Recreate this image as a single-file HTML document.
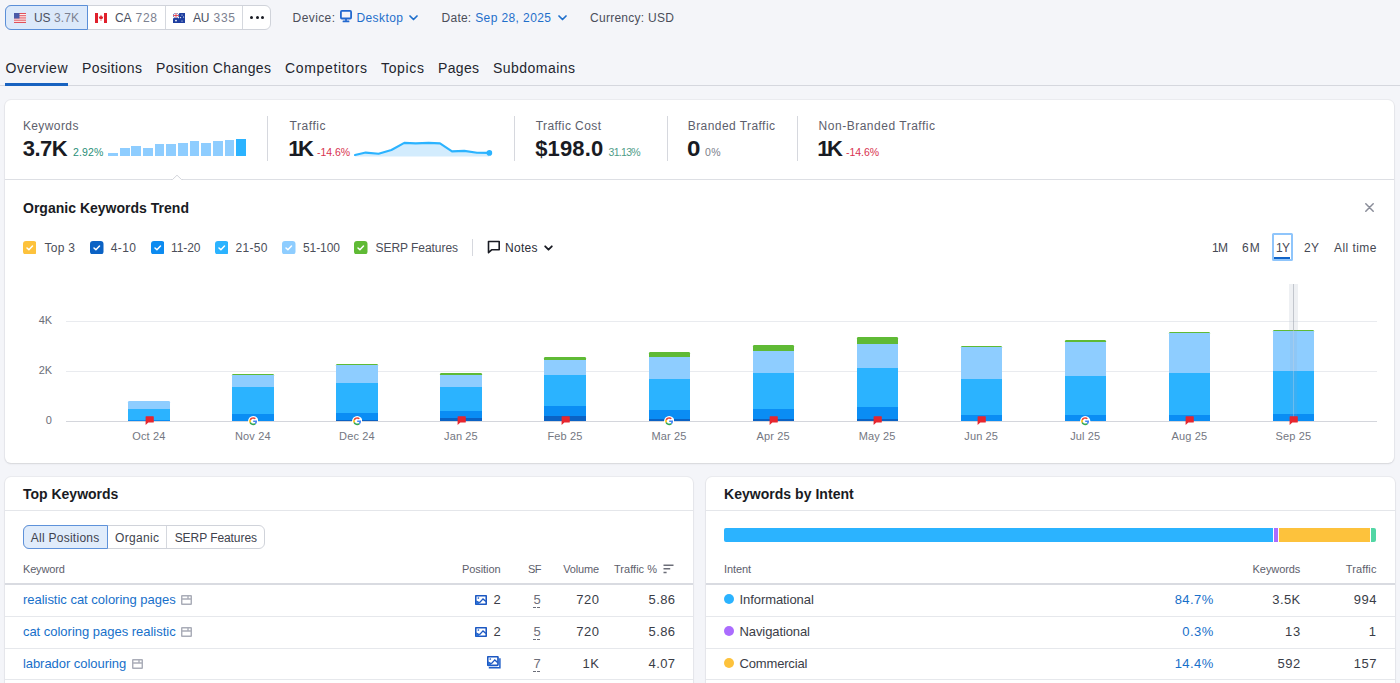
<!DOCTYPE html>
<html><head><meta charset="utf-8"><title>Organic Research</title>
<style>
html,body{margin:0;padding:0;}
body{width:1400px;height:683px;overflow:hidden;background:#f4f5f9;font-family:"Liberation Sans",sans-serif;position:relative;}
.t{position:absolute;white-space:nowrap;line-height:1;}
.b{position:absolute;display:block;}
</style></head><body>
<div class="b" style="left:5px;top:5px;width:266px;height:25px;background:#fff;border:1px solid #d0d3da;border-radius:6px;box-sizing:border-box;"></div>
<div class="b" style="left:164.5px;top:6px;width:1px;height:23px;background:#d5d8de;"></div>
<div class="b" style="left:242px;top:6px;width:1px;height:23px;background:#d5d8de;"></div>
<div class="b" style="left:5px;top:5px;width:83px;height:25px;background:#dce9fa;border:1px solid #5b8fd8;border-radius:6px 0 0 6px;box-sizing:border-box;"></div>
<svg class="b" style="left:14px;top:13px" width="12" height="10" viewBox="0 0 12 10"><rect width="12" height="10" fill="#fff"/><g fill="#e0505a"><rect y="0" width="12" height="1.1"/><rect y="2.2" width="12" height="1.1"/><rect y="4.4" width="12" height="1.1"/><rect y="6.6" width="12" height="1.1"/><rect y="8.8" width="12" height="1.2"/></g><rect width="5.5" height="5.5" fill="#4a5aa8"/></svg>
<svg class="b" style="left:95px;top:13px" width="12" height="10" viewBox="0 0 12 10"><rect width="12" height="10" fill="#fff"/><rect width="3" height="10" fill="#e0202c"/><rect x="9" width="3" height="10" fill="#e0202c"/><path d="M6 1.8 L7 3.8 L8.3 3.5 L7.6 5.8 L6.3 6 L6.3 8 L5.7 8 L5.7 6 L4.4 5.8 L3.7 3.5 L5 3.8 Z" fill="#e0202c"/></svg>
<svg class="b" style="left:173px;top:13px" width="12" height="10" viewBox="0 0 12 10"><rect width="12" height="10" fill="#1f3fa0"/><path d="M0 0 L6 5 M6 0 L0 5" stroke="#fff" stroke-width="1.2"/><path d="M3 0 V5 M0 2.5 H6" stroke="#fff" stroke-width="1.6"/><path d="M3 0 V5 M0 2.5 H6" stroke="#e0303c" stroke-width="0.8"/><g fill="#fff"><circle cx="3" cy="7.6" r="0.9"/><circle cx="9" cy="2" r="0.6"/><circle cx="9" cy="8" r="0.6"/><circle cx="7.6" cy="4.6" r="0.6"/><circle cx="10.6" cy="4" r="0.6"/></g></svg>
<span class="t" style="top:12.14px;font-size:12px;color:#4b5060;letter-spacing:-0.170px;left:34.00px;">US</span>
<span class="t" style="top:12.14px;font-size:12px;color:#7c8190;letter-spacing:0.105px;left:54.00px;">3.7K</span>
<span class="t" style="top:12.14px;font-size:12px;color:#4b5060;letter-spacing:-0.170px;left:115.00px;">CA</span>
<span class="t" style="top:12.14px;font-size:12px;color:#7c8190;letter-spacing:0.739px;left:135.50px;">728</span>
<span class="t" style="top:12.14px;font-size:12px;color:#4b5060;letter-spacing:-0.170px;left:193.00px;">AU</span>
<span class="t" style="top:12.14px;font-size:12px;color:#7c8190;letter-spacing:0.739px;left:213.50px;">335</span>
<div class="b" style="left:250.0px;top:16px;width:3px;height:3px;background:#191b23;border-radius:50%;"></div>
<div class="b" style="left:255.5px;top:16px;width:3px;height:3px;background:#191b23;border-radius:50%;"></div>
<div class="b" style="left:261.0px;top:16px;width:3px;height:3px;background:#191b23;border-radius:50%;"></div>
<span class="t" style="top:11.84px;font-size:12px;color:#4b4e59;letter-spacing:0.398px;left:292.60px;">Device:</span>
<svg class="b" style="left:340px;top:10px" width="12" height="13" viewBox="0 0 12 13"><rect x="0.9" y="0.9" width="10.2" height="7.6" rx="1" fill="none" stroke="#2268cf" stroke-width="1.8"/><rect x="5.1" y="8.5" width="1.8" height="2.4" fill="#2268cf"/><rect x="2.6" y="10.6" width="6.8" height="1.7" rx="0.6" fill="#2268cf"/></svg>
<span class="t" style="top:11.84px;font-size:12px;color:#1f6fcb;letter-spacing:0.413px;left:356.40px;">Desktop</span>
<svg class="b" style="left:409px;top:14.5px" width="9" height="6" viewBox="0 0 9 6"><path d="M1 1 L4.5 4.5 L8 1" fill="none" stroke="#1f6fcb" stroke-width="1.7" stroke-linecap="round" stroke-linejoin="round"/></svg>
<span class="t" style="top:11.84px;font-size:12px;color:#4b4e59;letter-spacing:0.230px;left:441.60px;">Date:</span>
<span class="t" style="top:11.84px;font-size:12px;color:#1f6fcb;letter-spacing:0.400px;left:475.20px;">Sep 28, 2025</span>
<svg class="b" style="left:558px;top:14.5px" width="9" height="6" viewBox="0 0 9 6"><path d="M1 1 L4.5 4.5 L8 1" fill="none" stroke="#1f6fcb" stroke-width="1.7" stroke-linecap="round" stroke-linejoin="round"/></svg>
<span class="t" style="top:11.84px;font-size:12px;color:#4b4e59;letter-spacing:0.268px;left:590.00px;">Currency: USD</span>
<span class="t" style="top:60.65px;font-size:14px;color:#23252e;letter-spacing:0.521px;left:5.50px;">Overview</span>
<span class="t" style="top:60.65px;font-size:14px;color:#23252e;letter-spacing:0.398px;left:82.00px;">Positions</span>
<span class="t" style="top:60.65px;font-size:14px;color:#23252e;letter-spacing:0.350px;left:156.00px;">Position Changes</span>
<span class="t" style="top:60.65px;font-size:14px;color:#23252e;letter-spacing:0.652px;left:285.00px;">Competitors</span>
<span class="t" style="top:60.65px;font-size:14px;color:#23252e;letter-spacing:0.662px;left:381.00px;">Topics</span>
<span class="t" style="top:60.65px;font-size:14px;color:#23252e;letter-spacing:0.325px;left:438.00px;">Pages</span>
<span class="t" style="top:60.65px;font-size:14px;color:#23252e;letter-spacing:0.463px;left:493.00px;">Subdomains</span>
<div class="b" style="left:0px;top:85px;width:1400px;height:1px;background:#d5d7de;"></div>
<div class="b" style="left:5.2px;top:83px;width:62.8px;height:2.8px;background:#1862c0;"></div>
<div class="b" style="left:5px;top:100px;width:1389.4px;height:363.2px;background:#fff;border-radius:6px;box-shadow:0 0 0 1px rgba(25,27,35,.04),0 1px 2px rgba(25,27,35,.10);"></div>
<div class="b" style="left:5px;top:179px;width:1389.4px;height:1px;background:#dddfe4;"></div>
<svg class="b" style="left:171px;top:174px" width="12" height="7" viewBox="0 0 12 7"><path d="M0 5.5 H1.5 L6 1.2 L10.5 5.5 H12 V7 H0 Z" fill="#fff"/><path d="M0 5.5 H1.5 L6 1.2 L10.5 5.5 H12" fill="none" stroke="#d4d6dc" stroke-width="1"/></svg>
<span class="t" style="top:119.94px;font-size:12px;color:#5d606c;letter-spacing:0.402px;left:22.90px;">Keywords</span>
<span class="t" style="top:137.58px;font-size:22px;color:#191b23;font-weight:700;letter-spacing:-0.558px;left:22.80px;">3.7K</span>
<span class="t" style="top:147.11px;font-size:10.5px;color:#2a8f79;letter-spacing:0.157px;left:72.90px;">2.92%</span>
<div class="b" style="left:108.0px;top:152.8px;width:9.9px;height:3.6px;background:#8ecdff;"></div>
<div class="b" style="left:119.65px;top:148.2px;width:9.9px;height:8.2px;background:#8ecdff;"></div>
<div class="b" style="left:131.3px;top:145.8px;width:9.9px;height:10.6px;background:#8ecdff;"></div>
<div class="b" style="left:142.95px;top:147.8px;width:9.9px;height:8.6px;background:#8ecdff;"></div>
<div class="b" style="left:154.6px;top:144.4px;width:9.9px;height:12px;background:#8ecdff;"></div>
<div class="b" style="left:166.25px;top:143.7px;width:9.9px;height:12.7px;background:#8ecdff;"></div>
<div class="b" style="left:177.9px;top:142.7px;width:9.9px;height:13.7px;background:#8ecdff;"></div>
<div class="b" style="left:189.55px;top:141.0px;width:9.9px;height:15.4px;background:#8ecdff;"></div>
<div class="b" style="left:201.2px;top:142.7px;width:9.9px;height:13.7px;background:#8ecdff;"></div>
<div class="b" style="left:212.85px;top:141.4px;width:9.9px;height:15px;background:#8ecdff;"></div>
<div class="b" style="left:224.5px;top:140.2px;width:9.9px;height:16.2px;background:#8ecdff;"></div>
<div class="b" style="left:236.15px;top:139.3px;width:9.9px;height:17.1px;background:#2bb3ff;"></div>
<div class="b" style="left:267px;top:116px;width:1px;height:45px;background:#d6d8de;"></div>
<div class="b" style="left:513.5px;top:116px;width:1px;height:45px;background:#d6d8de;"></div>
<div class="b" style="left:666.5px;top:116px;width:1px;height:45px;background:#d6d8de;"></div>
<div class="b" style="left:796.5px;top:116px;width:1px;height:45px;background:#d6d8de;"></div>
<span class="t" style="top:119.94px;font-size:12px;color:#5d606c;letter-spacing:0.555px;left:289.50px;">Traffic</span>
<span class="t" style="top:137.58px;font-size:22px;color:#191b23;font-weight:700;letter-spacing:-2.500px;left:288.20px;">1K</span>
<span class="t" style="top:147.11px;font-size:10.5px;color:#d8324f;letter-spacing:-0.054px;left:317.00px;">-14.6%</span>
<svg class="b" style="left:350px;top:138px" width="146" height="22" viewBox="0 0 146 22"><path d="M5.0 17.0 L15.7 14.6 L28.6 15.7 L41.4 12.0 L54.3 4.9 L65.7 5.4 L78.6 4.9 L90.0 5.4 L102.0 13.4 L114.3 12.9 L127.0 14.7 L139.4 14.9 L139.4 18.5 L5 18.5 Z" fill="#d3ecfd"/><path d="M5.0 17.0 L15.7 14.6 L28.6 15.7 L41.4 12.0 L54.3 4.9 L65.7 5.4 L78.6 4.9 L90.0 5.4 L102.0 13.4 L114.3 12.9 L127.0 14.7 L139.4 14.9" fill="none" stroke="#2bb3ff" stroke-width="2.1" stroke-linejoin="round" stroke-linecap="round"/><circle cx="139.4" cy="14.9" r="2.8" fill="#2bb3ff"/></svg>
<span class="t" style="top:119.94px;font-size:12px;color:#5d606c;letter-spacing:0.420px;left:535.70px;">Traffic Cost</span>
<span class="t" style="top:137.58px;font-size:22px;color:#191b23;font-weight:700;letter-spacing:0.141px;left:535.20px;">$198.0</span>
<span class="t" style="top:147.11px;font-size:10.5px;color:#4f9c88;letter-spacing:-0.723px;left:608.60px;">31.13%</span>
<span class="t" style="top:119.94px;font-size:12px;color:#5d606c;letter-spacing:0.439px;left:687.70px;">Branded Traffic</span>
<span class="t" style="top:137.58px;font-size:22px;color:#191b23;font-weight:700;left:687.30px;transform:scaleX(1.1);transform-origin:0 0;">0</span>
<span class="t" style="top:147.11px;font-size:10.5px;color:#7d808b;letter-spacing:0.424px;left:705.00px;">0%</span>
<span class="t" style="top:119.94px;font-size:12px;color:#5d606c;letter-spacing:0.513px;left:818.60px;">Non-Branded Traffic</span>
<span class="t" style="top:137.58px;font-size:22px;color:#191b23;font-weight:700;letter-spacing:-2.500px;left:817.30px;">1K</span>
<span class="t" style="top:147.11px;font-size:10.5px;color:#d8324f;letter-spacing:-0.054px;left:846.00px;">-14.6%</span>
<span class="t" style="top:200.65px;font-size:14px;color:#191b23;font-weight:700;letter-spacing:0.013px;left:23.00px;">Organic Keywords Trend</span>
<svg class="b" style="left:1365.4px;top:203.2px" width="9" height="9" viewBox="0 0 9 9"><path d="M0.8 0.8 L8.2 8.2 M8.2 0.8 L0.8 8.2" stroke="#8a8d99" stroke-width="1.5" stroke-linecap="round"/></svg>
<svg class="b" style="left:22.5px;top:240.5px" width="13.5" height="13.5" viewBox="0 0 13.5 13.5"><rect width="13.5" height="13.5" rx="3" fill="#fdc23c"/><path d="M4 7 L5.9 8.8 L9.5 5.1" fill="none" stroke="#fff" stroke-width="1.5" stroke-linecap="round" stroke-linejoin="round"/></svg>
<span class="t" style="top:241.84px;font-size:12px;color:#4b4e59;letter-spacing:0.286px;left:44.50px;">Top 3</span>
<svg class="b" style="left:90px;top:240.5px" width="13.5" height="13.5" viewBox="0 0 13.5 13.5"><rect width="13.5" height="13.5" rx="3" fill="#0b62c4"/><path d="M4 7 L5.9 8.8 L9.5 5.1" fill="none" stroke="#fff" stroke-width="1.5" stroke-linecap="round" stroke-linejoin="round"/></svg>
<span class="t" style="top:241.84px;font-size:12px;color:#4b4e59;letter-spacing:0.411px;left:110.75px;">4-10</span>
<svg class="b" style="left:150.5px;top:240.5px" width="13.5" height="13.5" viewBox="0 0 13.5 13.5"><rect width="13.5" height="13.5" rx="3" fill="#0d8bf0"/><path d="M4 7 L5.9 8.8 L9.5 5.1" fill="none" stroke="#fff" stroke-width="1.5" stroke-linecap="round" stroke-linejoin="round"/></svg>
<span class="t" style="top:241.84px;font-size:12px;color:#4b4e59;letter-spacing:-0.075px;left:171.00px;">11-20</span>
<svg class="b" style="left:214.5px;top:240.5px" width="13.5" height="13.5" viewBox="0 0 13.5 13.5"><rect width="13.5" height="13.5" rx="3" fill="#2bb3ff"/><path d="M4 7 L5.9 8.8 L9.5 5.1" fill="none" stroke="#fff" stroke-width="1.5" stroke-linecap="round" stroke-linejoin="round"/></svg>
<span class="t" style="top:241.84px;font-size:12px;color:#4b4e59;letter-spacing:0.327px;left:235.50px;">21-50</span>
<svg class="b" style="left:282px;top:240.5px" width="13.5" height="13.5" viewBox="0 0 13.5 13.5"><rect width="13.5" height="13.5" rx="3" fill="#8ecdff"/><path d="M4 7 L5.9 8.8 L9.5 5.1" fill="none" stroke="#fff" stroke-width="1.5" stroke-linecap="round" stroke-linejoin="round"/></svg>
<span class="t" style="top:241.84px;font-size:12px;color:#4b4e59;letter-spacing:-0.073px;left:303.00px;">51-100</span>
<svg class="b" style="left:354px;top:240.5px" width="13.5" height="13.5" viewBox="0 0 13.5 13.5"><rect width="13.5" height="13.5" rx="3" fill="#5fba35"/><path d="M4 7 L5.9 8.8 L9.5 5.1" fill="none" stroke="#fff" stroke-width="1.5" stroke-linecap="round" stroke-linejoin="round"/></svg>
<span class="t" style="top:241.84px;font-size:12px;color:#4b4e59;letter-spacing:-0.054px;left:375.50px;">SERP Features</span>
<div class="b" style="left:472px;top:239px;width:1px;height:17px;background:#d6d8de;"></div>
<svg class="b" style="left:487px;top:240px" width="14" height="14" viewBox="0 0 14 14"><path d="M1.5 1.5 H12.2 V9.8 H4.6 L1.5 12.6 Z" fill="none" stroke="#191b23" stroke-width="1.6" stroke-linejoin="round"/></svg>
<span class="t" style="top:241.84px;font-size:12px;color:#2a2c35;letter-spacing:0.288px;left:505.00px;">Notes</span>
<svg class="b" style="left:543.8px;top:244.6px" width="9" height="7" viewBox="0 0 9 7"><path d="M1.2 1.3 L4.5 4.7 L7.8 1.3" fill="none" stroke="#191b23" stroke-width="1.8" stroke-linecap="round" stroke-linejoin="round"/></svg>
<span class="t" style="top:241.84px;font-size:12px;color:#454853;letter-spacing:-0.700px;left:1212.00px;">1M</span>
<span class="t" style="top:241.84px;font-size:12px;color:#454853;letter-spacing:1.200px;left:1242.00px;">6M</span>
<div class="b" style="left:1272px;top:232.8px;width:20.6px;height:28.7px;background:#fff;border:2.4px solid #8fc5fb;box-sizing:border-box;border-radius:1.5px;"></div>
<div class="b" style="left:1274.4px;top:257.2px;width:15.8px;height:2.2px;background:#0f63c8;"></div>
<span class="t" style="top:241.84px;font-size:12px;color:#454853;letter-spacing:-0.700px;left:1276.00px;">1Y</span>
<span class="t" style="top:241.84px;font-size:12px;color:#454853;letter-spacing:0.322px;left:1304.00px;">2Y</span>
<span class="t" style="top:241.84px;font-size:12px;color:#454853;letter-spacing:0.437px;left:1334.00px;">All time</span>
<div class="b" style="left:65.5px;top:321px;width:1311px;height:1px;background:#e9ebef;"></div>
<div class="b" style="left:65.5px;top:371px;width:1311px;height:1px;background:#e9ebef;"></div>
<div class="b" style="left:65.5px;top:420.5px;width:1311px;height:1.4px;background:#d4d6dc;"></div>
<span class="t" style="top:314.99px;font-size:11px;color:#6c6e79;letter-spacing:-0.205px;left:38.75px;">4K</span>
<span class="t" style="top:364.99px;font-size:11px;color:#6c6e79;letter-spacing:-0.205px;left:38.75px;">2K</span>
<span class="t" style="top:414.89px;font-size:11px;color:#6c6e79;letter-spacing:0.183px;left:45.70px;">0</span>
<div class="b" style="left:128.25px;top:400.5px;width:41.6px;height:20.4px;background:#8ecdff;border-radius:1.2px 1.2px 0 0;"></div>
<div class="b" style="left:128.25px;top:409.25px;width:41.6px;height:11.65px;background:#2bb3ff;"></div>
<div class="b" style="left:128.25px;top:419.5px;width:41.6px;height:1.4px;background:#0a8df4;"></div>
<div class="b" style="left:232.3px;top:374px;width:41.6px;height:46.9px;background:#5fba35;border-radius:1.2px 1.2px 0 0;"></div>
<div class="b" style="left:232.3px;top:374.6px;width:41.6px;height:46.3px;background:#8ecdff;"></div>
<div class="b" style="left:232.3px;top:387px;width:41.6px;height:33.9px;background:#2bb3ff;"></div>
<div class="b" style="left:232.3px;top:414.25px;width:41.6px;height:6.65px;background:#0a8df4;"></div>
<div class="b" style="left:336.35px;top:363.75px;width:41.6px;height:57.15px;background:#5fba35;border-radius:1.2px 1.2px 0 0;"></div>
<div class="b" style="left:336.35px;top:365px;width:41.6px;height:55.9px;background:#8ecdff;"></div>
<div class="b" style="left:336.35px;top:383px;width:41.6px;height:37.9px;background:#2bb3ff;"></div>
<div class="b" style="left:336.35px;top:413.25px;width:41.6px;height:7.65px;background:#0a8df4;"></div>
<div class="b" style="left:336.35px;top:419.7px;width:41.6px;height:1.2px;background:#0b62c4;"></div>
<div class="b" style="left:440.4px;top:373.25px;width:41.6px;height:47.65px;background:#5fba35;border-radius:1.2px 1.2px 0 0;"></div>
<div class="b" style="left:440.4px;top:375.25px;width:41.6px;height:45.65px;background:#8ecdff;"></div>
<div class="b" style="left:440.4px;top:386.75px;width:41.6px;height:34.15px;background:#2bb3ff;"></div>
<div class="b" style="left:440.4px;top:410.75px;width:41.6px;height:10.15px;background:#0a8df4;"></div>
<div class="b" style="left:440.4px;top:418.25px;width:41.6px;height:2.65px;background:#0b62c4;"></div>
<div class="b" style="left:544.45px;top:357px;width:41.6px;height:63.9px;background:#5fba35;border-radius:1.2px 1.2px 0 0;"></div>
<div class="b" style="left:544.45px;top:360px;width:41.6px;height:60.9px;background:#8ecdff;"></div>
<div class="b" style="left:544.45px;top:375px;width:41.6px;height:45.9px;background:#2bb3ff;"></div>
<div class="b" style="left:544.45px;top:405.75px;width:41.6px;height:15.15px;background:#0a8df4;"></div>
<div class="b" style="left:544.45px;top:415.75px;width:41.6px;height:5.15px;background:#0b62c4;"></div>
<div class="b" style="left:648.5px;top:352px;width:41.6px;height:68.9px;background:#5fba35;border-radius:1.2px 1.2px 0 0;"></div>
<div class="b" style="left:648.5px;top:356.5px;width:41.6px;height:64.4px;background:#8ecdff;"></div>
<div class="b" style="left:648.5px;top:378.75px;width:41.6px;height:42.15px;background:#2bb3ff;"></div>
<div class="b" style="left:648.5px;top:409.5px;width:41.6px;height:11.4px;background:#0a8df4;"></div>
<div class="b" style="left:648.5px;top:419.25px;width:41.6px;height:1.65px;background:#0b62c4;"></div>
<div class="b" style="left:752.55px;top:345px;width:41.6px;height:75.9px;background:#5fba35;border-radius:1.2px 1.2px 0 0;"></div>
<div class="b" style="left:752.55px;top:350.5px;width:41.6px;height:70.4px;background:#8ecdff;"></div>
<div class="b" style="left:752.55px;top:372.5px;width:41.6px;height:48.4px;background:#2bb3ff;"></div>
<div class="b" style="left:752.55px;top:408.75px;width:41.6px;height:12.15px;background:#0a8df4;"></div>
<div class="b" style="left:752.55px;top:419.25px;width:41.6px;height:1.65px;background:#0b62c4;"></div>
<div class="b" style="left:856.6px;top:337px;width:41.6px;height:83.9px;background:#5fba35;border-radius:1.2px 1.2px 0 0;"></div>
<div class="b" style="left:856.6px;top:343.75px;width:41.6px;height:77.15px;background:#8ecdff;"></div>
<div class="b" style="left:856.6px;top:368px;width:41.6px;height:52.9px;background:#2bb3ff;"></div>
<div class="b" style="left:856.6px;top:407px;width:41.6px;height:13.9px;background:#0a8df4;"></div>
<div class="b" style="left:856.6px;top:419.25px;width:41.6px;height:1.65px;background:#0b62c4;"></div>
<div class="b" style="left:960.65px;top:345.6px;width:41.6px;height:75.3px;background:#5fba35;border-radius:1.2px 1.2px 0 0;"></div>
<div class="b" style="left:960.65px;top:347.3px;width:41.6px;height:73.6px;background:#8ecdff;"></div>
<div class="b" style="left:960.65px;top:378.6px;width:41.6px;height:42.3px;background:#2bb3ff;"></div>
<div class="b" style="left:960.65px;top:414.6px;width:41.6px;height:6.3px;background:#0a8df4;"></div>
<div class="b" style="left:1064.7px;top:340px;width:41.6px;height:80.9px;background:#5fba35;border-radius:1.2px 1.2px 0 0;"></div>
<div class="b" style="left:1064.7px;top:342px;width:41.6px;height:78.9px;background:#8ecdff;"></div>
<div class="b" style="left:1064.7px;top:375.8px;width:41.6px;height:45.1px;background:#2bb3ff;"></div>
<div class="b" style="left:1064.7px;top:414.6px;width:41.6px;height:6.3px;background:#0a8df4;"></div>
<div class="b" style="left:1168.75px;top:331.8px;width:41.6px;height:89.1px;background:#5fba35;border-radius:1.2px 1.2px 0 0;"></div>
<div class="b" style="left:1168.75px;top:333.2px;width:41.6px;height:87.7px;background:#8ecdff;"></div>
<div class="b" style="left:1168.75px;top:372.5px;width:41.6px;height:48.4px;background:#2bb3ff;"></div>
<div class="b" style="left:1168.75px;top:415.3px;width:41.6px;height:5.6px;background:#0a8df4;"></div>
<div class="b" style="left:1272.8px;top:329.5px;width:41.6px;height:91.4px;background:#5fba35;border-radius:1.2px 1.2px 0 0;"></div>
<div class="b" style="left:1272.8px;top:331.2px;width:41.6px;height:89.7px;background:#8ecdff;"></div>
<div class="b" style="left:1272.8px;top:371.2px;width:41.6px;height:49.7px;background:#2bb3ff;"></div>
<div class="b" style="left:1272.8px;top:414.2px;width:41.6px;height:6.7px;background:#0a8df4;"></div>
<div class="b" style="left:1289.2px;top:283.6px;width:8.8px;height:46px;background:rgba(200,204,214,.30);"></div>
<div class="b" style="left:1292.6px;top:283.6px;width:1.2px;height:46px;background:rgba(150,155,168,.50);"></div>
<div class="b" style="left:1290.2px;top:329.6px;width:6.8px;height:91.3px;background:rgba(150,160,185,.13);"></div>
<div class="b" style="left:1292.6px;top:329.6px;width:1.2px;height:91.3px;background:rgba(205,210,222,.36);"></div>
<svg class="b" style="left:144.6px;top:416px" width="9" height="9.2" viewBox="0 0 9 9.2"><path d="M1.2 0.2 H8.2 Q8.8 0.2 8.8 0.8 V6 Q8.8 6.6 8.2 6.6 H3.3 L0.6 8.9 V0.8 Q0.6 0.2 1.2 0.2 Z" fill="#e6262f"/></svg>
<span class="t" style="top:431.09px;font-size:11px;color:#747782;letter-spacing:0.130px;left:132.22px;">Oct 24</span>
<svg class="b" style="left:247.9px;top:415.6px" width="10.4" height="10.4" viewBox="0 0 48 48"><circle cx="24" cy="24" r="24" fill="#fff"/><g transform="translate(5.5 5.5) scale(0.77)"><path fill="#EA4335" d="M24 9.5c3.54 0 6.71 1.22 9.21 3.6l6.85-6.85C35.9 2.38 30.47 0 24 0 14.62 0 6.51 5.38 2.56 13.22l7.98 6.19C12.43 13.72 17.74 9.5 24 9.5z"/><path fill="#4285F4" d="M46.98 24.55c0-1.57-.15-3.09-.38-4.55H24v9.02h12.94c-.58 2.96-2.26 5.48-4.78 7.18l7.73 6c4.51-4.18 7.09-10.36 7.09-17.65z"/><path fill="#FBBC05" d="M10.53 28.59c-.48-1.45-.76-2.99-.76-4.59s.27-3.14.76-4.59l-7.98-6.19C.92 16.46 0 20.12 0 24c0 3.88.92 7.54 2.56 10.78l7.97-6.19z"/><path fill="#34A853" d="M24 48c6.48 0 11.93-2.13 15.89-5.81l-7.73-6c-2.15 1.45-4.92 2.3-8.16 2.3-6.26 0-11.57-4.22-13.47-9.91l-7.98 6.19C6.51 42.62 14.62 48 24 48z"/></g></svg>
<span class="t" style="top:431.09px;font-size:11px;color:#747782;letter-spacing:0.139px;left:235.03px;">Nov 24</span>
<svg class="b" style="left:352.0px;top:415.6px" width="10.4" height="10.4" viewBox="0 0 48 48"><circle cx="24" cy="24" r="24" fill="#fff"/><g transform="translate(5.5 5.5) scale(0.77)"><path fill="#EA4335" d="M24 9.5c3.54 0 6.71 1.22 9.21 3.6l6.85-6.85C35.9 2.38 30.47 0 24 0 14.62 0 6.51 5.38 2.56 13.22l7.98 6.19C12.43 13.72 17.74 9.5 24 9.5z"/><path fill="#4285F4" d="M46.98 24.55c0-1.57-.15-3.09-.38-4.55H24v9.02h12.94c-.58 2.96-2.26 5.48-4.78 7.18l7.73 6c4.51-4.18 7.09-10.36 7.09-17.65z"/><path fill="#FBBC05" d="M10.53 28.59c-.48-1.45-.76-2.99-.76-4.59s.27-3.14.76-4.59l-7.98-6.19C.92 16.46 0 20.12 0 24c0 3.88.92 7.54 2.56 10.78l7.97-6.19z"/><path fill="#34A853" d="M24 48c6.48 0 11.93-2.13 15.89-5.81l-7.73-6c-2.15 1.45-4.92 2.3-8.16 2.3-6.26 0-11.57-4.22-13.47-9.91l-7.98 6.19C6.51 42.62 14.62 48 24 48z"/></g></svg>
<span class="t" style="top:431.09px;font-size:11px;color:#747782;letter-spacing:0.139px;left:339.08px;">Dec 24</span>
<svg class="b" style="left:456.7px;top:416px" width="9" height="9.2" viewBox="0 0 9 9.2"><path d="M1.2 0.2 H8.2 Q8.8 0.2 8.8 0.8 V6 Q8.8 6.6 8.2 6.6 H3.3 L0.6 8.9 V0.8 Q0.6 0.2 1.2 0.2 Z" fill="#e6262f"/></svg>
<span class="t" style="top:431.09px;font-size:11px;color:#747782;letter-spacing:0.132px;left:444.06px;">Jan 25</span>
<svg class="b" style="left:560.8px;top:416px" width="9" height="9.2" viewBox="0 0 9 9.2"><path d="M1.2 0.2 H8.2 Q8.8 0.2 8.8 0.8 V6 Q8.8 6.6 8.2 6.6 H3.3 L0.6 8.9 V0.8 Q0.6 0.2 1.2 0.2 Z" fill="#e6262f"/></svg>
<span class="t" style="top:431.09px;font-size:11px;color:#747782;letter-spacing:0.137px;left:547.49px;">Feb 25</span>
<svg class="b" style="left:664.1px;top:415.6px" width="10.4" height="10.4" viewBox="0 0 48 48"><circle cx="24" cy="24" r="24" fill="#fff"/><g transform="translate(5.5 5.5) scale(0.77)"><path fill="#EA4335" d="M24 9.5c3.54 0 6.71 1.22 9.21 3.6l6.85-6.85C35.9 2.38 30.47 0 24 0 14.62 0 6.51 5.38 2.56 13.22l7.98 6.19C12.43 13.72 17.74 9.5 24 9.5z"/><path fill="#4285F4" d="M46.98 24.55c0-1.57-.15-3.09-.38-4.55H24v9.02h12.94c-.58 2.96-2.26 5.48-4.78 7.18l7.73 6c4.51-4.18 7.09-10.36 7.09-17.65z"/><path fill="#FBBC05" d="M10.53 28.59c-.48-1.45-.76-2.99-.76-4.59s.27-3.14.76-4.59l-7.98-6.19C.92 16.46 0 20.12 0 24c0 3.88.92 7.54 2.56 10.78l7.97-6.19z"/><path fill="#34A853" d="M24 48c6.48 0 11.93-2.13 15.89-5.81l-7.73-6c-2.15 1.45-4.92 2.3-8.16 2.3-6.26 0-11.57-4.22-13.47-9.91l-7.98 6.19C6.51 42.62 14.62 48 24 48z"/></g></svg>
<span class="t" style="top:431.09px;font-size:11px;color:#747782;letter-spacing:0.137px;left:651.54px;">Mar 25</span>
<svg class="b" style="left:768.8px;top:416px" width="9" height="9.2" viewBox="0 0 9 9.2"><path d="M1.2 0.2 H8.2 Q8.8 0.2 8.8 0.8 V6 Q8.8 6.6 8.2 6.6 H3.3 L0.6 8.9 V0.8 Q0.6 0.2 1.2 0.2 Z" fill="#e6262f"/></svg>
<span class="t" style="top:431.09px;font-size:11px;color:#747782;letter-spacing:0.130px;left:756.52px;">Apr 25</span>
<svg class="b" style="left:872.9px;top:416px" width="9" height="9.2" viewBox="0 0 9 9.2"><path d="M1.2 0.2 H8.2 Q8.8 0.2 8.8 0.8 V6 Q8.8 6.6 8.2 6.6 H3.3 L0.6 8.9 V0.8 Q0.6 0.2 1.2 0.2 Z" fill="#e6262f"/></svg>
<span class="t" style="top:431.09px;font-size:11px;color:#747782;letter-spacing:0.144px;left:858.70px;">May 25</span>
<svg class="b" style="left:976.9px;top:416px" width="9" height="9.2" viewBox="0 0 9 9.2"><path d="M1.2 0.2 H8.2 Q8.8 0.2 8.8 0.8 V6 Q8.8 6.6 8.2 6.6 H3.3 L0.6 8.9 V0.8 Q0.6 0.2 1.2 0.2 Z" fill="#e6262f"/></svg>
<span class="t" style="top:431.09px;font-size:11px;color:#747782;letter-spacing:0.132px;left:964.31px;">Jun 25</span>
<svg class="b" style="left:1080.3px;top:415.6px" width="10.4" height="10.4" viewBox="0 0 48 48"><circle cx="24" cy="24" r="24" fill="#fff"/><g transform="translate(5.5 5.5) scale(0.77)"><path fill="#EA4335" d="M24 9.5c3.54 0 6.71 1.22 9.21 3.6l6.85-6.85C35.9 2.38 30.47 0 24 0 14.62 0 6.51 5.38 2.56 13.22l7.98 6.19C12.43 13.72 17.74 9.5 24 9.5z"/><path fill="#4285F4" d="M46.98 24.55c0-1.57-.15-3.09-.38-4.55H24v9.02h12.94c-.58 2.96-2.26 5.48-4.78 7.18l7.73 6c4.51-4.18 7.09-10.36 7.09-17.65z"/><path fill="#FBBC05" d="M10.53 28.59c-.48-1.45-.76-2.99-.76-4.59s.27-3.14.76-4.59l-7.98-6.19C.92 16.46 0 20.12 0 24c0 3.88.92 7.54 2.56 10.78l7.97-6.19z"/><path fill="#34A853" d="M24 48c6.48 0 11.93-2.13 15.89-5.81l-7.73-6c-2.15 1.45-4.92 2.3-8.16 2.3-6.26 0-11.57-4.22-13.47-9.91l-7.98 6.19C6.51 42.62 14.62 48 24 48z"/></g></svg>
<span class="t" style="top:431.09px;font-size:11px;color:#747782;letter-spacing:0.117px;left:1070.23px;">Jul 25</span>
<svg class="b" style="left:1185.0px;top:416px" width="9" height="9.2" viewBox="0 0 9 9.2"><path d="M1.2 0.2 H8.2 Q8.8 0.2 8.8 0.8 V6 Q8.8 6.6 8.2 6.6 H3.3 L0.6 8.9 V0.8 Q0.6 0.2 1.2 0.2 Z" fill="#e6262f"/></svg>
<span class="t" style="top:431.09px;font-size:11px;color:#747782;letter-spacing:0.139px;left:1171.47px;">Aug 25</span>
<svg class="b" style="left:1289.1px;top:416px" width="9" height="9.2" viewBox="0 0 9 9.2"><path d="M1.2 0.2 H8.2 Q8.8 0.2 8.8 0.8 V6 Q8.8 6.6 8.2 6.6 H3.3 L0.6 8.9 V0.8 Q0.6 0.2 1.2 0.2 Z" fill="#e6262f"/></svg>
<span class="t" style="top:431.09px;font-size:11px;color:#747782;letter-spacing:0.139px;left:1275.52px;">Sep 25</span>
<div class="b" style="left:5px;top:476.5px;width:688px;height:220px;background:#fff;border-radius:6px 6px 0 0;box-shadow:0 0 0 1px rgba(25,27,35,.04),0 1px 2px rgba(25,27,35,.10);"></div>
<span class="t" style="top:486.95px;font-size:14px;color:#191b23;font-weight:700;letter-spacing:0.007px;left:22.90px;">Top Keywords</span>
<div class="b" style="left:5px;top:510px;width:688px;height:1px;background:#e4e6ea;"></div>
<div class="b" style="left:23px;top:525px;width:242px;height:24px;background:#fff;border:1px solid #d0d3da;border-radius:6px;box-sizing:border-box;"></div>
<div class="b" style="left:166.3px;top:526px;width:1px;height:22px;background:#d5d8de;"></div>
<div class="b" style="left:23px;top:525px;width:84.5px;height:24px;background:#e0ecfb;border:1px solid #5e92da;border-radius:6px 0 0 6px;box-sizing:border-box;"></div>
<span class="t" style="top:532.04px;font-size:12px;color:#40434e;letter-spacing:0.270px;left:30.70px;">All Positions</span>
<span class="t" style="top:532.04px;font-size:12px;color:#40434e;letter-spacing:0.330px;left:115.00px;">Organic</span>
<span class="t" style="top:532.04px;font-size:12px;color:#40434e;letter-spacing:-0.071px;left:174.70px;">SERP Features</span>
<span class="t" style="top:564.29px;font-size:11px;color:#5d606c;letter-spacing:-0.166px;left:23.00px;">Keyword</span>
<span class="t" style="top:564.29px;font-size:11px;color:#5d606c;letter-spacing:-0.076px;left:462.00px;">Position</span>
<span class="t" style="top:564.29px;font-size:11px;color:#5d606c;letter-spacing:-0.700px;left:528.00px;">SF</span>
<span class="t" style="top:564.29px;font-size:11px;color:#5d606c;letter-spacing:-0.198px;left:563.30px;">Volume</span>
<span class="t" style="top:564.29px;font-size:11px;color:#5d606c;letter-spacing:0.027px;left:614.00px;">Traffic %</span>
<svg class="b" style="left:663px;top:564px" width="11" height="10" viewBox="0 0 11 10"><path d="M0.5 1.2 H10.5 M0.5 4.8 H7.2 M0.5 8.4 H3.6" stroke="#6c6e79" stroke-width="1.5"/></svg>
<div class="b" style="left:5px;top:583px;width:688px;height:1.6px;background:#d9dbe1;"></div>
<div class="b" style="left:5px;top:615.5px;width:688px;height:1px;background:#e6e8ec;"></div>
<div class="b" style="left:5px;top:647.5px;width:688px;height:1px;background:#e6e8ec;"></div>
<div class="b" style="left:5px;top:679.2px;width:688px;height:1px;background:#e6e8ec;"></div>
<span class="t" style="top:593.20px;font-size:13px;color:#1770ca;letter-spacing:-0.015px;left:22.90px;">realistic cat coloring pages</span>
<svg class="b" style="left:181.3px;top:595.4000000000001px" width="11" height="10" viewBox="0 0 11 10"><rect x="0.7" y="0.7" width="9.6" height="8.6" rx="0.8" fill="none" stroke="#aaadb8" stroke-width="1.5"/><path d="M0.7 4 H10.3 M7 0.7 V4" stroke="#aaadb8" stroke-width="1.4"/></svg>
<svg class="b" style="left:475px;top:594.9000000000001px" width="12" height="10" viewBox="0 0 12 10"><rect x="0.7" y="0.7" width="10.6" height="8.6" rx="0.8" fill="#fff" stroke="#1c58c2" stroke-width="1.7"/><path d="M1 6 L3.6 7.4 L5 7.2 L8 3.9 L11 6.6" fill="none" stroke="#1c58c2" stroke-width="1.4"/><path d="M1 6 L3.6 7.4 L5 7.2 L3.6 9.2 L1 9.2 Z" fill="#2a6fd6"/><circle cx="3.4" cy="3" r="0.85" fill="#1f5fc8"/></svg>
<span class="t" style="top:593.20px;font-size:13px;color:#3a3d47;letter-spacing:-0.630px;left:493.40px;">2</span>
<span class="t" style="top:593.20px;font-size:13px;color:#6c6e79;letter-spacing:-0.430px;left:533.40px;">5</span>
<div class="b" style="left:533.4px;top:607.2px;width:6.8px;height:1px;background:repeating-linear-gradient(90deg,#6c6e79 0 2.6px,transparent 2.6px 4.2px)"></div>
<span class="t" style="top:593.20px;font-size:13px;color:#3a3d47;letter-spacing:0.488px;left:576.33px;">720</span>
<span class="t" style="top:593.20px;font-size:13px;color:#3a3d47;letter-spacing:0.380px;left:648.56px;">5.86</span>
<span class="t" style="top:625.20px;font-size:13px;color:#1770ca;letter-spacing:-0.015px;left:22.90px;">cat coloring pages realistic</span>
<svg class="b" style="left:181.3px;top:627.4000000000001px" width="11" height="10" viewBox="0 0 11 10"><rect x="0.7" y="0.7" width="9.6" height="8.6" rx="0.8" fill="none" stroke="#aaadb8" stroke-width="1.5"/><path d="M0.7 4 H10.3 M7 0.7 V4" stroke="#aaadb8" stroke-width="1.4"/></svg>
<svg class="b" style="left:475px;top:626.9000000000001px" width="12" height="10" viewBox="0 0 12 10"><rect x="0.7" y="0.7" width="10.6" height="8.6" rx="0.8" fill="#fff" stroke="#1c58c2" stroke-width="1.7"/><path d="M1 6 L3.6 7.4 L5 7.2 L8 3.9 L11 6.6" fill="none" stroke="#1c58c2" stroke-width="1.4"/><path d="M1 6 L3.6 7.4 L5 7.2 L3.6 9.2 L1 9.2 Z" fill="#2a6fd6"/><circle cx="3.4" cy="3" r="0.85" fill="#1f5fc8"/></svg>
<span class="t" style="top:625.20px;font-size:13px;color:#3a3d47;letter-spacing:-0.630px;left:493.40px;">2</span>
<span class="t" style="top:625.20px;font-size:13px;color:#6c6e79;letter-spacing:-0.430px;left:533.40px;">5</span>
<div class="b" style="left:533.4px;top:639.2px;width:6.8px;height:1px;background:repeating-linear-gradient(90deg,#6c6e79 0 2.6px,transparent 2.6px 4.2px)"></div>
<span class="t" style="top:625.20px;font-size:13px;color:#3a3d47;letter-spacing:0.488px;left:576.33px;">720</span>
<span class="t" style="top:625.20px;font-size:13px;color:#3a3d47;letter-spacing:0.380px;left:648.56px;">5.86</span>
<span class="t" style="top:657.20px;font-size:13px;color:#1770ca;letter-spacing:-0.045px;left:22.90px;">labrador colouring</span>
<svg class="b" style="left:132.4px;top:659.4000000000001px" width="11" height="10" viewBox="0 0 11 10"><rect x="0.7" y="0.7" width="9.6" height="8.6" rx="0.8" fill="none" stroke="#aaadb8" stroke-width="1.5"/><path d="M0.7 4 H10.3 M7 0.7 V4" stroke="#aaadb8" stroke-width="1.4"/></svg>
<svg class="b" style="left:486.8px;top:656.4000000000001px" width="14" height="13" viewBox="0 0 14 13"><path d="M12.9 2.3 V11.7 H1.8" fill="none" stroke="#1f5fc8" stroke-width="1.5"/><rect x="0.7" y="0.7" width="10.3" height="8.7" rx="0.8" fill="#fff" stroke="#1c58c2" stroke-width="1.7"/><path d="M1 6 L3.4 7.4 L4.8 7.2 L7.8 3.9 L10.6 6.6" fill="none" stroke="#1c58c2" stroke-width="1.4"/><path d="M1 6 L3.4 7.4 L4.8 7.2 L3.6 9.2 L1 9.2 Z" fill="#2a6fd6"/><circle cx="3.3" cy="3" r="0.85" fill="#1f5fc8"/></svg>
<span class="t" style="top:657.20px;font-size:13px;color:#6c6e79;letter-spacing:-0.430px;left:533.40px;">7</span>
<div class="b" style="left:533.4px;top:671.2px;width:6.8px;height:1px;background:repeating-linear-gradient(90deg,#6c6e79 0 2.6px,transparent 2.6px 4.2px)"></div>
<span class="t" style="top:657.20px;font-size:13px;color:#3a3d47;letter-spacing:0.716px;left:582.38px;">1K</span>
<span class="t" style="top:657.20px;font-size:13px;color:#3a3d47;letter-spacing:0.380px;left:648.56px;">4.07</span>
<div class="b" style="left:706px;top:476.5px;width:688.5px;height:220px;background:#fff;border-radius:6px 6px 0 0;box-shadow:0 0 0 1px rgba(25,27,35,.04),0 1px 2px rgba(25,27,35,.10);"></div>
<span class="t" style="top:487.35px;font-size:14px;color:#191b23;font-weight:700;letter-spacing:0.033px;left:724.00px;">Keywords by Intent</span>
<div class="b" style="left:706px;top:510px;width:688.5px;height:1px;background:#e4e6ea;"></div>
<div class="b" style="left:724px;top:528px;width:549.3px;height:14px;background:#2bb3ff;border-radius:2px 0 0 2px;"></div>
<div class="b" style="left:1274.4px;top:528px;width:3.3px;height:14px;background:#ab6cfe;"></div>
<div class="b" style="left:1278.8px;top:528px;width:91px;height:14px;background:#fdc23c;"></div>
<div class="b" style="left:1371px;top:528px;width:5.4px;height:14px;background:#52d6a4;border-radius:0 2px 2px 0;"></div>
<span class="t" style="top:564.29px;font-size:11px;color:#5d606c;letter-spacing:-0.104px;left:724.00px;">Intent</span>
<span class="t" style="top:564.29px;font-size:11px;color:#5d606c;letter-spacing:-0.085px;left:1252.60px;">Keywords</span>
<span class="t" style="top:564.29px;font-size:11px;color:#5d606c;letter-spacing:0.108px;left:1345.80px;">Traffic</span>
<div class="b" style="left:706px;top:583px;width:688.5px;height:1.6px;background:#d9dbe1;"></div>
<div class="b" style="left:706px;top:615.5px;width:688.5px;height:1px;background:#e6e8ec;"></div>
<div class="b" style="left:706px;top:647.5px;width:688.5px;height:1px;background:#e6e8ec;"></div>
<div class="b" style="left:706px;top:679.2px;width:688.5px;height:1px;background:#e6e8ec;"></div>
<div class="b" style="left:724px;top:594.1px;width:10px;height:10px;background:#2bb3ff;border-radius:50%;"></div>
<span class="t" style="top:593.20px;font-size:13px;color:#3a3d47;letter-spacing:-0.071px;left:739.50px;">Informational</span>
<span class="t" style="top:593.20px;font-size:13px;color:#1770ca;letter-spacing:0.415px;left:1174.68px;">84.7%</span>
<span class="t" style="top:593.20px;font-size:13px;color:#3a3d47;letter-spacing:0.401px;left:1272.25px;">3.5K</span>
<span class="t" style="top:593.20px;font-size:13px;color:#3a3d47;letter-spacing:0.488px;left:1353.73px;">994</span>
<div class="b" style="left:724px;top:626.1px;width:10px;height:10px;background:#ab6cfe;border-radius:50%;"></div>
<span class="t" style="top:625.20px;font-size:13px;color:#3a3d47;letter-spacing:-0.095px;left:739.50px;">Navigational</span>
<span class="t" style="top:625.20px;font-size:13px;color:#1770ca;letter-spacing:0.444px;left:1182.24px;">0.3%</span>
<span class="t" style="top:625.20px;font-size:13px;color:#3a3d47;letter-spacing:0.651px;left:1285.09px;">13</span>
<span class="t" style="top:625.20px;font-size:13px;color:#3a3d47;letter-spacing:0.325px;left:1368.84px;">1</span>
<div class="b" style="left:724px;top:658.1px;width:10px;height:10px;background:#fdc23c;border-radius:50%;"></div>
<span class="t" style="top:657.20px;font-size:13px;color:#3a3d47;letter-spacing:-0.161px;left:739.50px;">Commercial</span>
<span class="t" style="top:657.20px;font-size:13px;color:#1770ca;letter-spacing:0.415px;left:1174.68px;">14.4%</span>
<span class="t" style="top:657.20px;font-size:13px;color:#3a3d47;letter-spacing:0.488px;left:1277.53px;">592</span>
<span class="t" style="top:657.20px;font-size:13px;color:#3a3d47;letter-spacing:0.488px;left:1353.73px;">157</span>
</body></html>
